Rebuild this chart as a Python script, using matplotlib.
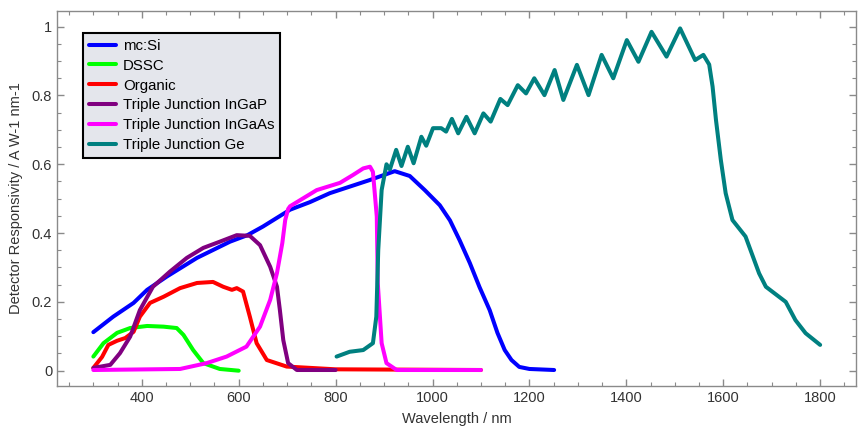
#!/usr/bin/env python3

import matplotlib
matplotlib.use('Agg')
import matplotlib.pyplot as plt
from matplotlib.ticker import MultipleLocator

plt.rcParams['font.family'] = ['Liberation Sans', 'DejaVu Sans']

# mc:Si
mcsi_wl = [300, 341, 383, 411, 452, 514, 582, 618, 650, 706, 747, 788, 870, 922,
           953, 984, 1015, 1036, 1056, 1077, 1097, 1118, 1134, 1149, 1163, 1179, 1200, 1251]
mcsi_r = [0.112, 0.157, 0.197, 0.235, 0.274, 0.328, 0.375, 0.394, 0.419, 0.468, 0.49, 0.516, 0.554, 0.58,
          0.566, 0.525, 0.481, 0.437, 0.379, 0.313, 0.243, 0.176, 0.11, 0.06, 0.031, 0.011, 0.005, 0.002]

# DSSC
dssc_wl = [300, 321, 349, 376, 411, 445, 472, 486, 506, 527, 561, 600]
dssc_r = [0.041, 0.08, 0.11, 0.124, 0.13, 0.128, 0.124, 0.104, 0.06, 0.022, 0.005, 0.0]

# Organic
org_wl = [300, 318, 331, 349, 366, 383, 396, 417, 445, 479, 514, 547, 568, 586, 596, 609,
          623, 637, 658, 699, 800, 1100]
org_r = [0.008, 0.04, 0.075, 0.087, 0.095, 0.113, 0.157, 0.197, 0.215, 0.24, 0.255, 0.258, 0.244, 0.235, 0.24, 0.23,
         0.157, 0.08, 0.031, 0.012, 0.004, 0.002]

# Triple Junction InGaP
ingap_wl = [300, 335, 355, 376, 396, 423, 458, 493, 527, 561, 596, 623, 644, 665, 679, 685,
            692, 702, 720, 800]
ingap_r = [0.008, 0.017, 0.051, 0.099, 0.176, 0.244, 0.288, 0.328, 0.357, 0.375, 0.394, 0.392, 0.365, 0.302, 0.244, 0.176,
           0.089, 0.022, 0.002, 0.002]

# Triple Junction InGaAs
ingaas_wl = [300, 479, 534, 575, 616, 644, 665, 679, 690, 696, 702, 706, 761, 809, 836, 857,
             871, 877, 885, 887, 895, 905, 926, 1100]
ingaas_r = [0.002, 0.005, 0.022, 0.041, 0.07, 0.128, 0.206, 0.284, 0.371, 0.438, 0.47, 0.478, 0.525, 0.546, 0.569, 0.588,
            0.593, 0.578, 0.448, 0.255, 0.08, 0.022, 0.002, 0.002]

# Triple Junction Ge
ge_wl = [802, 829, 857, 877, 884, 888, 895, 905, 912, 925, 936, 949, 961, 977, 987, 1001,
         1018, 1028, 1040, 1053, 1070, 1087, 1105, 1120, 1140, 1155, 1176, 1193, 1210, 1231,
         1252, 1270, 1298, 1322, 1349, 1373, 1401, 1425, 1452, 1483, 1511, 1542, 1559,
         1571, 1578, 1585, 1595, 1605, 1619, 1646, 1674, 1688, 1715, 1729, 1749, 1770, 1800]
ge_r = [0.041, 0.055, 0.06, 0.08, 0.157, 0.351, 0.525, 0.6, 0.585, 0.642, 0.595, 0.651, 0.603, 0.68, 0.654, 0.705,
        0.705, 0.695, 0.732, 0.69, 0.738, 0.69, 0.748, 0.724, 0.79, 0.772, 0.83, 0.806, 0.85, 0.801,
        0.874, 0.787, 0.889, 0.801, 0.918, 0.85, 0.961, 0.898, 0.985, 0.913, 0.995, 0.903, 0.918,
        0.89, 0.826, 0.729, 0.613, 0.516, 0.438, 0.39, 0.283, 0.244, 0.215, 0.2, 0.147, 0.109, 0.075]

series = [
    (mcsi_wl, mcsi_r, 'mc:Si', '#0000ff'),
    (dssc_wl, dssc_r, 'DSSC', '#00ff00'),
    (org_wl, org_r, 'Organic', '#ff0000'),
    (ingap_wl, ingap_r, 'Triple Junction InGaP', '#800080'),
    (ingaas_wl, ingaas_r, 'Triple Junction InGaAs', '#ff00ff'),
    (ge_wl, ge_r, 'Triple Junction Ge', '#008080'),
]

fig = plt.figure(figsize=(8.58, 4.28), dpi=100)
ax = fig.add_axes([57/858, 1 - 386/428, 799/858, 375/428])

for x, y, label, colour in series:
    ax.plot(x, y, color=colour, lw=2.9, label=label, solid_joinstyle='round', solid_capstyle='round')

ax.set_xlim(225, 1874)
ax.set_ylim(-0.0445, 1.0456)

ax.xaxis.set_major_locator(MultipleLocator(200))
ax.xaxis.set_minor_locator(MultipleLocator(50))
ax.yaxis.set_minor_locator(MultipleLocator(0.05))
ax.set_yticks([0, 0.2, 0.4, 0.6, 0.8, 1.0])
ax.set_yticklabels(['0', '0.2', '0.4', '0.6', '0.8', '1'])

for s in ax.spines.values():
    s.set_color('#8a8a8a')
    s.set_linewidth(1.0)

ax.tick_params(which='both', direction='in', top=True, right=True, colors='#8a8a8a',
               labelcolor='#333333', labelsize=10.5)
ax.tick_params(which='major', length=5, width=1)
ax.tick_params(which='minor', length=3, width=0.8)

ax.set_xlabel('Wavelength / nm', fontsize=10.5, color='#333333', labelpad=5)
ax.set_ylabel('Detector Responsivity / A W-1 nm-1', fontsize=10.5, color='#333333', labelpad=6)

leg = ax.legend(loc='upper left', bbox_to_anchor=(0.0325, 0.941), fontsize=10.8,
                handlelength=1.8, handletextpad=0.5, labelspacing=0.39, borderpad=0.38,
                fancybox=False, framealpha=1, borderaxespad=0)
leg.get_frame().set_facecolor('#e4e6ec')
leg.get_frame().set_edgecolor('black')
leg.get_frame().set_linewidth(1.5)

plt.savefig('out.png', dpi=100)
